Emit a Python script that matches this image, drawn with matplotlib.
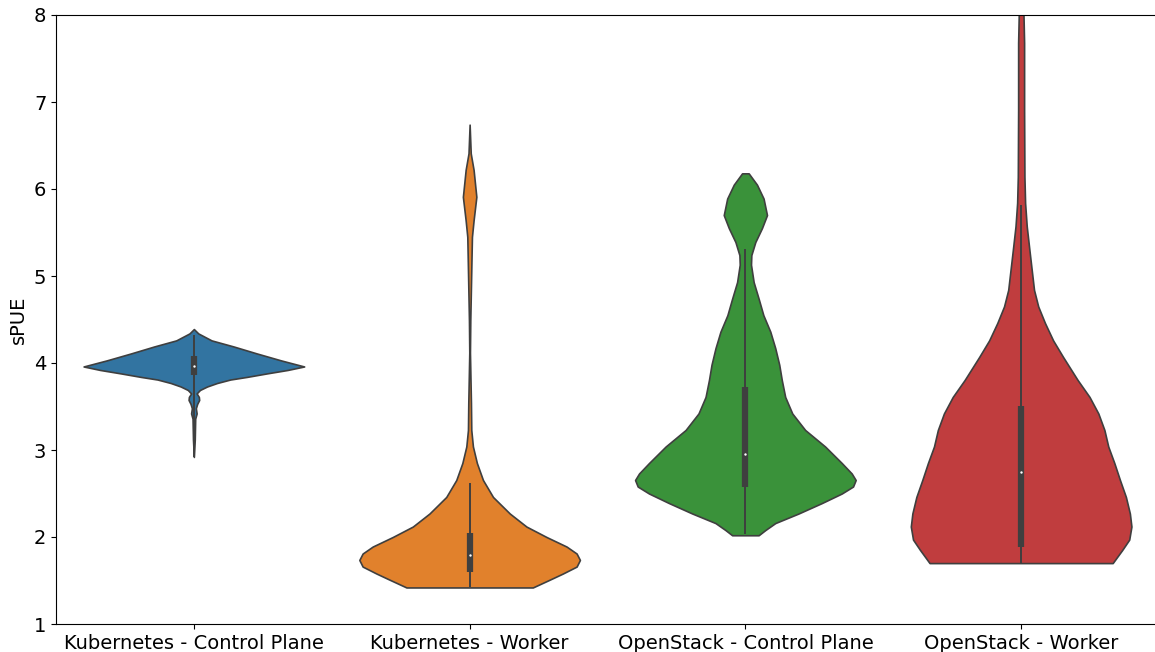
import numpy as np
import matplotlib
matplotlib.use("Agg")
import matplotlib.pyplot as plt

categories = ["Kubernetes - Control Plane", "Kubernetes - Worker",
              "OpenStack - Control Plane", "OpenStack - Worker"]

# density profiles (relative, peak = 1)
k8s_cp_y = [4.39, 4.34, 4.26, 4.19, 4.11, 4.03, 3.96, 3.92, 3.88, 3.84,
            3.81, 3.77, 3.73, 3.69, 3.65, 3.61, 3.575, 3.53, 3.48, 3.42,
            3.36, 3.12, 2.92]
k8s_cp_d = [0.0, 0.04, 0.16, 0.36, 0.57, 0.79, 1.0, 0.85, 0.66, 0.48,
            0.33, 0.21, 0.12, 0.055, 0.025, 0.045, 0.048, 0.03, 0.018, 0.025,
            0.012, 0.008, 0.0]

k8s_w_y = [6.74, 6.41, 6.22, 5.91, 5.64, 5.45, 5.07, 4.49, 4.12, 3.54,
           3.23, 3.04, 2.85, 2.655, 2.46, 2.27, 2.12, 2.00, 1.89, 1.81,
           1.736, 1.66, 1.58, 1.51, 1.42]
k8s_w_d = [0.0, 0.01, 0.036, 0.061, 0.036, 0.021, 0.015, 0.006, 0.003, 0.012,
           0.015, 0.03, 0.066, 0.121, 0.212, 0.364, 0.515, 0.697, 0.879, 0.97,
           1.0, 0.97, 0.845, 0.727, 0.573]

os_cp_y = [6.18, 6.05, 5.89, 5.70, 5.55, 5.39, 5.24, 5.13, 4.93, 4.74,
           4.55, 4.36, 4.17, 3.98, 3.805, 3.61, 3.42, 3.23, 3.04, 2.85,
           2.73, 2.655, 2.58, 2.50, 2.39, 2.27, 2.16, 2.08, 2.02]
os_cp_d = [0.03, 0.105, 0.165, 0.196, 0.15, 0.09, 0.054, 0.051, 0.075, 0.12,
           0.163, 0.226, 0.271, 0.307, 0.33, 0.361, 0.425, 0.542, 0.723, 0.874,
           0.964, 1.0, 0.976, 0.874, 0.693, 0.482, 0.271, 0.181, 0.12]

os_w_y = [8.2, 7.68, 6.91, 6.14, 5.84, 5.57, 5.30, 5.07, 4.84, 4.65,
          4.46, 4.26, 4.07, 3.805, 3.61, 3.42, 3.23, 3.04, 2.85, 2.655,
          2.46, 2.27, 2.12, 1.97, 1.85, 1.77, 1.70]
os_w_d = [0.018, 0.027, 0.027, 0.03, 0.036, 0.051, 0.075, 0.096, 0.117, 0.155,
          0.216, 0.29, 0.38, 0.512, 0.62, 0.70, 0.755, 0.79, 0.845, 0.896,
          0.95, 0.986, 1.0, 0.98, 0.916, 0.87, 0.83]

# inner box stats
q1 = [3.86, 1.60, 2.58, 1.88]
medians = [3.965, 1.79, 2.95, 2.75]
q3 = [4.08, 2.05, 3.72, 3.51]
whisker_lo = [2.92, 1.42, 2.03, 1.69]
whisker_hi = [4.32, 2.62, 5.31, 5.82]

colors = ["#3274a1", "#e1812c", "#3a923a", "#c03d3e"]
line_col = "#3f3f3f"

profiles = [(k8s_cp_y, k8s_cp_d), (k8s_w_y, k8s_w_d),
            (os_cp_y, os_cp_d), (os_w_y, os_w_d)]

vpstats = []
for i, (ys, ds) in enumerate(profiles):
    vpstats.append({
        "coords": np.array(ys),
        "vals": np.array(ds),
        "mean": medians[i],
        "median": medians[i],
        "min": min(ys),
        "max": max(ys),
    })

fig = plt.figure(figsize=(11.55, 6.52), dpi=100)
ax = fig.add_axes([56 / 1155, 1 - 624 / 652, 1103 / 1155, 609 / 652])

pos = np.arange(len(categories))
parts = ax.violin(vpstats, positions=pos, widths=0.8,
                  showmeans=False, showextrema=False, showmedians=False)
for body, c in zip(parts["bodies"], colors):
    body.set_facecolor(c)
    body.set_edgecolor(line_col)
    body.set_linewidth(1.2)
    body.set_alpha(1)

ax.vlines(pos, whisker_lo, whisker_hi, color=line_col, lw=1.4, zorder=3)
ax.vlines(pos, q1, q3, color=line_col, lw=4.5, zorder=3)
ax.scatter(pos, medians, s=3, color="white", zorder=4, linewidths=0)

ax.set_xlim(-0.5, 3.5)
ax.set_ylim(1, 8)
ax.set_xticks(pos)
ax.set_xticklabels(categories, fontsize=14)
ax.tick_params(axis="y", labelsize=14)
ax.set_ylabel("sPUE", fontsize=14)

fig.savefig("out.png", dpi=100)
